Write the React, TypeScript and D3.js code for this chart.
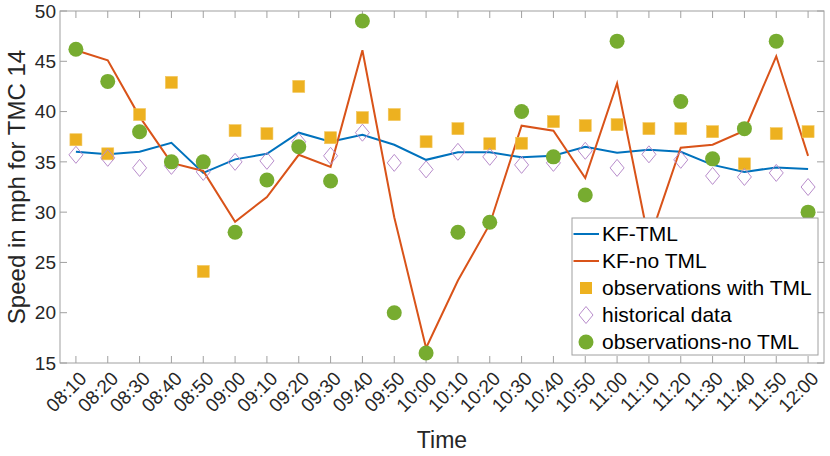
import * as d3 from "d3";

const times = ["08:10", "08:20", "08:30", "08:40", "08:50", "09:00", "09:10", "09:20", "09:30", "09:40", "09:50", "10:00",
  "10:10", "10:20", "10:30", "10:40", "10:50", "11:00", "11:10", "11:20", "11:30", "11:40", "11:50", "12:00"];
const kfTml = [36.0, 35.75, 36.0, 36.9, 33.9, 35.25, 35.8, 37.9, 37.0, 37.7, 36.7, 35.2,
  35.95, 35.95, 35.45, 35.6, 36.5, 35.9, 36.2, 36.0, 34.7, 34.0, 34.45, 34.3];
const kfNoTml = [46.1, 45.1, 39.5, 34.9, 34.1, 29.05, 31.5, 35.7, 34.5, 46.1, 29.5, 16.5,
  23.2, 28.8, 38.6, 38.1, 33.4, 42.8, 27.1, 36.4, 36.7, 38.1, 45.5, 35.6];
const obsTml = [37.2, 35.8, 39.7, 42.9, 24.1, 38.1, 37.8, 42.5, 37.4, 39.4, 39.7, 37.0,
  38.3, 36.8, 36.85, 39.0, 38.6, 38.7, 38.3, 38.3, 38.0, 34.8, 37.8, 38.0];
const historical = [35.7, 35.4, 34.4, 34.6, 34.0, 35.0, 35.1, 37.0, 35.6, 37.9, 34.9, 34.25,
  36.0, 35.5, 34.7, 34.9, 36.1, 34.4, 35.75, 35.2, 33.6, 33.5, 33.9, 32.5];
const obsNoTml = [46.2, 43.0, 38.0, 35.0, 35.0, 28.0, 33.2, 36.5, 33.1, 49.0, 20.0, 16.0,
  28.0, 29.0, 40.0, 35.5, 31.7, 47.0, 26.0, 41.0, 35.3, 38.3, 47.0, 30.0];
const yTicks = [15, 20, 25, 30, 35, 40, 45, 50];

const W = 830, H = 456;
const m = { left: 60, right: 824, top: 11, bottom: 363 };
const font = "'Liberation Sans', Arial, sans-serif";
const BLUE = "#0072BD", ORANGE = "#D95319", YELLOW = "#EDB120", PURPLE = "#B88CCB", GREEN = "#77AC30";
const AXIS = "#A0A0A0";

const x = d3.scalePoint<string>().domain(times).range([m.left, m.right]).padding(0.5);
const y = d3.scaleLinear().domain([15, 50]).range([m.bottom, m.top]);

const line = d3.line<number>().x((_, i) => x(times[i])!).y(d => y(d));

const diamond = (cx: number, cy: number) =>
  `M${cx},${cy - 8.5}L${cx + 7},${cy}L${cx},${cy + 8.5}L${cx - 7},${cy}Z`;

const legendItems = [
  { label: "KF-TML", kind: "line", color: BLUE },
  { label: "KF-no TML", kind: "line", color: ORANGE },
  { label: "observations with TML", kind: "square", color: YELLOW },
  { label: "historical data", kind: "diamond", color: PURPLE },
  { label: "observations-no TML", kind: "circle", color: GREEN },
];

export default function App() {
  const tickLen = 7;
  const lg = { x: 572, y: 218, w: 246, h: 137, step: 27 };
  return (
    <div style={{ position: "absolute", left: 0, top: 0 }}>
      <svg width={W} height={H} style={{ display: "block", fontFamily: font }}>
        <rect width={W} height={H} fill="#fff" />
        {/* ticks */}
        {times.map(t => (
          <g key={t} stroke={AXIS} strokeWidth={1}>
            <line x1={x(t)} x2={x(t)} y1={m.bottom} y2={m.bottom - tickLen} />
            <line x1={x(t)} x2={x(t)} y1={m.top} y2={m.top + tickLen} />
          </g>
        ))}
        {yTicks.map(v => (
          <g key={v} stroke={AXIS} strokeWidth={1}>
            <line x1={m.left} x2={m.left + tickLen} y1={y(v)} y2={y(v)} />
            <line x1={m.right} x2={m.right - tickLen} y1={y(v)} y2={y(v)} />
          </g>
        ))}
        {/* series */}
        <path d={line(kfTml)!} fill="none" stroke={BLUE} strokeWidth={2} />
        <path d={line(kfNoTml)!} fill="none" stroke={ORANGE} strokeWidth={2} />
        {obsTml.map((v, i) => (
          <rect key={i} x={x(times[i])! - 6} y={y(v) - 6} width={12} height={12} fill={YELLOW} stroke="#F2C55A" strokeWidth={0.6} />
        ))}
        {historical.map((v, i) => (
          <path key={i} d={diamond(x(times[i])!, y(v))} fill="none" stroke={PURPLE} strokeWidth={1} />
        ))}
        {obsNoTml.map((v, i) => (
          <circle key={i} cx={x(times[i])} cy={y(v)} r={7.5} fill={GREEN} />
        ))}
        {/* box */}
        <rect x={m.left} y={m.top} width={m.right - m.left} height={m.bottom - m.top} fill="none" stroke={AXIS} strokeWidth={1} />
        {/* tick labels */}
        {times.map(t => (
          <text key={t} transform={`translate(${x(t)! + 7},${m.bottom + 12}) rotate(-45)`} textAnchor="end" dy="0.35em"
            fontSize={19} fill="#262626">{t}</text>
        ))}
        {yTicks.map(v => (
          <text key={v} x={m.left - 4} y={y(v)} dy="0.35em" textAnchor="end" fontSize={19} fill="#262626">{v}</text>
        ))}
        <text x={(m.left + m.right) / 2} y={448} textAnchor="middle" fontSize={23} fill="#262626">Time</text>
        <text transform={`translate(25,${(m.top + m.bottom) / 2}) rotate(-90)`} textAnchor="middle" fontSize={24} fill="#262626">
          Speed in mph for TMC 14
        </text>
        {/* legend */}
        <rect x={lg.x} y={lg.y} width={lg.w} height={lg.h} fill="#fff" stroke={AXIS} strokeWidth={1} />
        {legendItems.map((it, i) => {
          const cy = lg.y + 16 + i * lg.step;
          const cx = lg.x + 14;
          return (
            <g key={it.label}>
              {it.kind === "line" && <line x1={lg.x + 1.5} x2={lg.x + 27} y1={cy} y2={cy} stroke={it.color} strokeWidth={2} />}
              {it.kind === "square" && <rect x={cx - 6} y={cy - 6} width={12} height={12} fill={it.color} />}
              {it.kind === "diamond" && <path d={diamond(cx, cy)} fill="none" stroke={it.color} strokeWidth={1} />}
              {it.kind === "circle" && <circle cx={cx} cy={cy} r={7.5} fill={it.color} />}
              <text x={lg.x + 30} y={cy} dy="0.35em" fontSize={21} fill="#000">{it.label}</text>
            </g>
          );
        })}
      </svg>
    </div>
  );
}
